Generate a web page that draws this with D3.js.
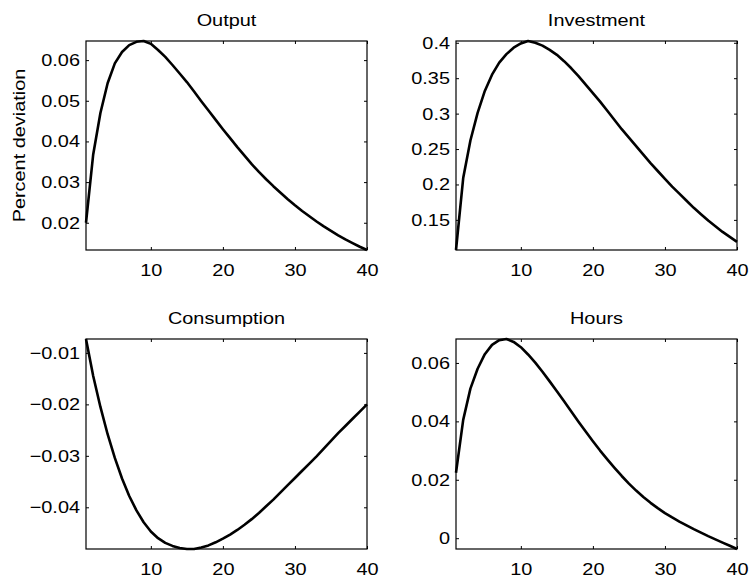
<!DOCTYPE html>
<html>
<head>
<meta charset="utf-8">
<script src="https://cdn.jsdelivr.net/npm/d3@7"></script>
<style>
body { margin: 0; background: #fff; }
svg { display: block; }
</style>
</head>
<body>
<div class="chart-div"></div>
<script>
var width = 750;
var height = 579;

//Impulse responses, quarters 1..40
var periods = d3.range(1, 41);
var outputValues = [0.0200, 0.0368, 0.0470, 0.0543, 0.0592, 0.0620, 0.0637, 0.0645, 0.0647, 0.0640,
                    0.0625, 0.0608, 0.0588, 0.0567, 0.0546, 0.0523, 0.0499, 0.0476, 0.0453, 0.0430,
                    0.0408, 0.0386, 0.0365, 0.0344, 0.0325, 0.0307, 0.0290, 0.0274, 0.0258, 0.0243,
                    0.0229, 0.0216, 0.0203, 0.0191, 0.0180, 0.0169, 0.0159, 0.0150, 0.0141, 0.0133];
var investmentValues = [0.1075, 0.209, 0.262, 0.301, 0.332, 0.355, 0.372, 0.384, 0.393, 0.399,
                        0.4025, 0.400, 0.396, 0.390, 0.383, 0.374, 0.364, 0.353, 0.341, 0.329,
                        0.317, 0.304, 0.291, 0.278, 0.266, 0.254, 0.242, 0.230, 0.219, 0.208,
                        0.197, 0.187, 0.177, 0.167, 0.158, 0.149, 0.141, 0.133, 0.126, 0.119];
var consumptionValues = [-0.0073, -0.0145, -0.0205, -0.0258, -0.0304, -0.0344, -0.0378, -0.0406, -0.0429, -0.0447,
                         -0.0460, -0.0469, -0.0475, -0.0479, -0.0481, -0.0481, -0.0478, -0.0474, -0.0468, -0.0461,
                         -0.0453, -0.0444, -0.0434, -0.0423, -0.0411, -0.0398, -0.0385, -0.0371, -0.0357, -0.0343,
                         -0.0329, -0.0315, -0.0301, -0.0286, -0.0271, -0.0256, -0.0242, -0.0228, -0.0214, -0.0200];
var hoursValues = [0.0224, 0.0405, 0.0512, 0.0580, 0.0630, 0.0662, 0.0678, 0.0682, 0.0672, 0.0654,
                   0.0629, 0.0601, 0.0570, 0.0537, 0.0503, 0.0469, 0.0434, 0.0399, 0.0365, 0.0332,
                   0.0300, 0.0270, 0.0241, 0.0213, 0.0187, 0.0163, 0.0141, 0.0121, 0.0103, 0.0086,
                   0.0071, 0.0057, 0.0044, 0.0031, 0.0019, 0.0007, -0.0004, -0.0015, -0.0026, -0.0037];

//Tick labels
var periodTicks = [10, 20, 30, 40];
var outputTicks = [0.02, 0.03, 0.04, 0.05, 0.06];
var investmentTicks = [0.15, 0.2, 0.25, 0.3, 0.35, 0.4];
var consumptionTicks = [-0.04, -0.03, -0.02, -0.01];
var hoursTicks = [0, 0.02, 0.04, 0.06];

var titles = ["Output", "Investment", "Consumption", "Hours"];
var yLabel = "Percent deviation";

//layout of the 2x2 grid (matlab subplot boxes)
var boxLefts = [86, 456];
var boxTops = [41, 339];
var boxWidth = 281;
var boxHeights = [209, 210];
var fontSize = 17;
var stretch = 1.17;   //glyphs in the reference are wider than Helvetica

var svg = d3.select(".chart-div")
            .append("svg")
                .attr("width", width)
                .attr("height", height)
                .style("font-family", "'Liberation Sans', Arial, Helvetica, sans-serif");

svg.append("rect")
    .attr("width", width)
    .attr("height", height)
    .attr("fill", "#fff");

var series = [outputValues, investmentValues, consumptionValues, hoursValues];
var yTicks = [outputTicks, investmentTicks, consumptionTicks, hoursTicks];

for (var i = 0; i < 4; i++) {
    drawPanel(i);
}

function fmt(d) {
    if (d === 0) return "0";
    return String(d).replace("-", "\u2212");
}

function drawPanel(i) {
    var col = i % 2;
    var row = Math.floor(i / 2);
    var w = boxWidth;
    var h = boxHeights[row];
    var values = series[i];

    var g = svg.append("g")
                .attr("transform", "translate(" + boxLefts[col] + "," + boxTops[row] + ")");

    var x = d3.scaleLinear()
                .domain(d3.extent(periods))
                .range([0, w]);
    var y = d3.scaleLinear()
                .domain(d3.extent(values))
                .range([h, 0]);

    //inward ticks on all four sides
    var bottom = g.append("g")
                    .attr("transform", "translate(0," + h + ")")
                    .call(d3.axisBottom(x).tickValues(periodTicks).tickSizeInner(-3).tickSizeOuter(0)
                            .tickPadding(13.5).tickFormat(fmt));
    var left = g.append("g")
                    .call(d3.axisLeft(y).tickValues(yTicks[i]).tickSizeInner(-3).tickSizeOuter(0)
                            .tickPadding(6).tickFormat(fmt));
    g.append("g")
        .call(d3.axisTop(x).tickValues(periodTicks).tickSizeInner(-3).tickSizeOuter(0).tickFormat(""));
    g.append("g")
        .attr("transform", "translate(" + w + ",0)")
        .call(d3.axisRight(y).tickValues(yTicks[i]).tickSizeInner(-3).tickSizeOuter(0).tickFormat(""));

    g.selectAll(".domain").remove();
    g.selectAll(".tick line").attr("stroke", "#000").attr("stroke-width", 1);

    bottom.selectAll("text")
            .attr("font-size", fontSize)
            .attr("fill", "#000")
            .attr("transform", "scale(" + stretch + ",1)");
    left.selectAll("text")
            .attr("font-size", fontSize)
            .attr("fill", "#000")
            .attr("x", -6 / stretch)
            .attr("transform", "scale(" + stretch + ",1)");
    g.selectAll("text").attr("font-family", null);

    //box
    g.append("rect")
        .attr("x", 0)
        .attr("y", 0)
        .attr("width", w)
        .attr("height", h)
        .attr("fill", "none")
        .attr("stroke", "#000")
        .attr("stroke-width", 1.2);

    //response line
    var line = d3.line()
                .x(function(d, k) { return x(periods[k]); })
                .y(function(d) { return y(d); });
    g.append("path")
        .datum(values)
        .attr("d", line)
        .attr("fill", "none")
        .attr("stroke", "#000")
        .attr("stroke-width", 2.6)
        .attr("stroke-linejoin", "round");

    //title
    g.append("text")
        .attr("transform", "translate(" + (w / 2) + "," + (-15.5) + ") scale(" + stretch + ",1)")
        .attr("text-anchor", "middle")
        .attr("font-size", fontSize)
        .attr("fill", "#000")
        .text(titles[i]);

    if (i === 0) {
        g.append("text")
            .attr("transform", "translate(" + (25 - boxLefts[0]) + "," + (h / 2) + ") rotate(-90) scale(" + stretch + ",1)")
            .attr("text-anchor", "middle")
            .attr("font-size", fontSize)
            .attr("fill", "#000")
            .text(yLabel);
    }
}
</script>
</body>
</html>
